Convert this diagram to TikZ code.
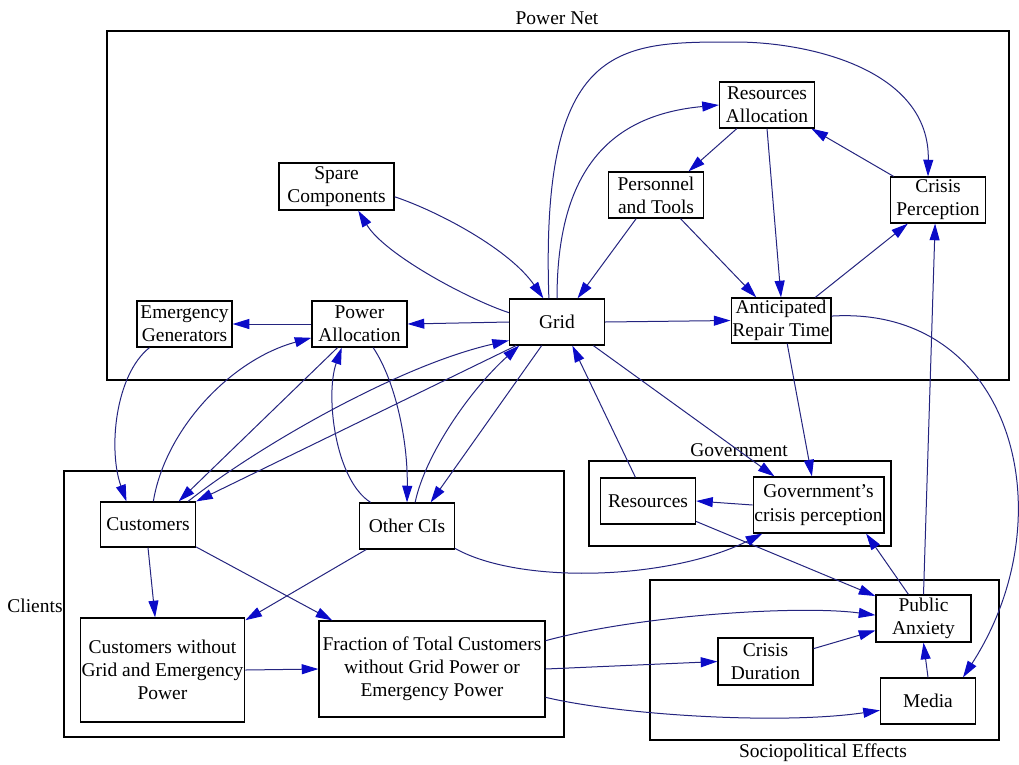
\documentclass[tikz,border=0pt]{standalone}
\usepackage{fontspec}
\setmainfont{Liberation Serif}
\usetikzlibrary{arrows.meta}
\definecolor{edgeblue}{HTML}{24247F}
\definecolor{tipblue}{HTML}{0B0BC8}
\tikzset{
  var/.style={draw=black,line width=0.9pt,fill=white,align=center,font=\fontsize{14.6}{17.4}\selectfont,minimum width=71.25pt,minimum height=34.5pt,inner sep=1pt},
  cluster/.style={draw=black,line width=1pt},
  clab/.style={font=\fontsize{14.6}{17.4}\selectfont},
  link/.style={-{Triangle[length=12.5pt,width=7.5pt,color=tipblue]},line width=0.75pt,color=edgeblue},
}
\begin{document}
\begin{tikzpicture}[x=0.75pt,y=-0.75pt]
  \useasboundingbox (0,0) rectangle (1019,764);
  % clusters
  \draw[cluster] (107,31) rectangle (1009,380);
  \node[clab] (lpower) at (557,18) {Power Net};
  \draw[cluster] (64,471) rectangle (564,737);
  \node[clab] (lclients) at (35,606) {Clients};
  \draw[cluster] (589,461) rectangle (891,546);
  \node[clab] (lgov) at (739,450) {Government};
  \draw[cluster] (650,580) rectangle (999,740);
  \node[clab] (lsocio) at (823,753) {Sociopolitical Effects};
  % power net
  \node[var,minimum width=86.25pt,minimum height=35.25pt] (spare) at (336.5,186.5) {Spare\\Components};
  \node[var] (emgen) at (184.5,324) {Emergency\\Generators};
  \node[var] (palloc) at (359.5,324) {Power\\Allocation};
  \node[var] (grid) at (557,322) {Grid};
  \node[var] (ralloc) at (767,105) {Resources\\Allocation};
  \node[var] (pers) at (656,195) {Personnel\\and Tools};
  \node[var] (crisp) at (938,200) {Crisis\\Perception};
  \node[var,minimum height=33.75pt] (art) at (781,320.5) {Anticipated\\Repair Time};
  % clients
  \node[var,minimum height=33.75pt] (cust) at (148,524.5) {Customers};
  \node[var] (oci) at (407,526) {Other CIs};
  \node[var,minimum width=120.75pt,minimum height=78pt] (cwo) at (162.5,670) {Customers without\\Grid and Emergency\\Power};
  \node[var,minimum width=169.5pt,minimum height=72pt] (frac) at (432,669) {Fraction of Total Customers\\without Grid Power or\\Emergency Power};
  % government
  \node[var] (res) at (648,501) {Resources};
  \node[var,minimum width=92.25pt,minimum height=42pt] (gcp) at (818.5,505) {Government's\\crisis perception};
  % sociopolitical effects
  \node[var,minimum height=35.25pt] (panx) at (923.5,618.5) {Public\\Anxiety};
  \node[var,minimum height=35.25pt] (cdur) at (765.5,661.5) {Crisis\\Duration};
  \node[var] (media) at (928,701) {Media};
  % straight links
  \foreach \a/\b in {grid.west/palloc.east,palloc.west/emgen.east,ralloc.-142/pers.36,
    ralloc.south/art.north,crisp.152/ralloc.-28,pers.-130/grid.49,pers.-44/art.137,
    art.34/crisp.-142,grid.east/art.west,art.-75/gcp.103,grid.-33/gcp.147,res.118/grid.-57,
    gcp.west/res.east,res.-23/panx.155,panx.122/gcp.-31,panx.north/crisp.-97,
    media.north/panx.south,cdur.15/panx.-166,frac.east/cdur.west,cust.south/cwo.98,
    cust.-25/frac.154,oci.-150/cwo.31,cwo.east/frac.west,palloc.-133/cust.37,
    grid.-150/cust.north east,grid.-123/oci.45}
    \draw[link] (\a) -- (\b);
  % curved links
  \draw[link] (spare.-10) .. controls (440,212) and (510,250) .. (grid.120);
  \draw[link] (grid.169) .. controls (470,300) and (385,255) .. (spare.-48);
  \draw[link] (grid.north) .. controls (557,170) and (610,115) .. (ralloc.west);
  \draw[link] (grid.109) .. controls (540,40) and (620,42) .. (735,42)
    .. controls (810,42) and (930,70) .. (crisp.113);
  \draw[link] (art.5) .. controls (1012,305) and (1068,515) .. (media.34);
  \draw[link] (frac.14) .. controls (640,615) and (800,605) .. (panx.176);
  \draw[link] (frac.-14) .. controls (620,715) and (780,725) .. (media.-169);
  \draw[link] (oci.-25) .. controls (520,585) and (670,580) .. (gcp.-153);
  \draw[link] (emgen.-146) .. controls (115,375) and (108,450) .. (cust.133);
  \draw[link] (cust.77) .. controls (165,430) and (230,360) .. (palloc.-164);
  \draw[link] (cust.30) .. controls (260,445) and (400,365) .. (grid.-159);
  \draw[link] (palloc.-60) .. controls (395,380) and (408,440) .. (oci.north);
  \draw[link] (oci.147) .. controls (335,480) and (325,395) .. (palloc.-127);
  \draw[link] (oci.71) .. controls (425,455) and (470,390) .. (grid.-148);
\end{tikzpicture}
\end{document}
